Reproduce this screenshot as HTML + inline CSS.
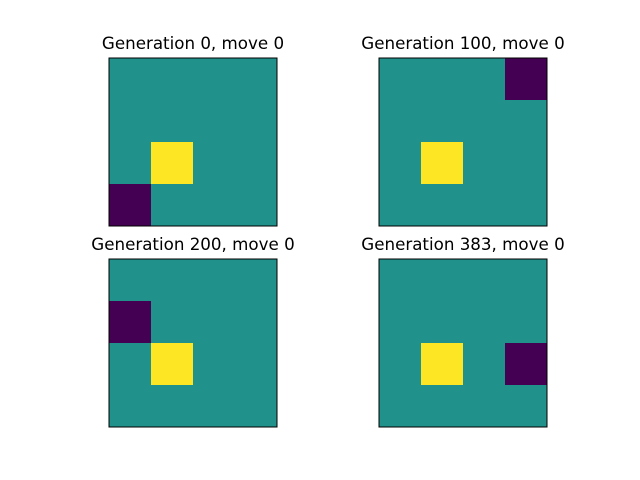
<!DOCTYPE html>
<html><head><meta charset="utf-8"><style>
body{margin:0;background:#fff;width:640px;height:480px;overflow:hidden}
svg{display:block}
text{font-family:"DejaVu Sans","Liberation Sans",sans-serif;font-size:16.7px;fill:#000}
</style></head><body>
<svg id="fig" width="640" height="480"></svg>
<script>
const titles = ["Generation 0, move 0","Generation 100, move 0","Generation 200, move 0","Generation 383, move 0"];
// 0 = purple (agent), 1 = teal (empty), 2 = yellow (goal)
const grid0 = [[1,1,1,1],[1,1,1,1],[1,2,1,1],[0,1,1,1]];
const grid1 = [[1,1,1,0],[1,1,1,1],[1,2,1,1],[1,1,1,1]];
const grid2 = [[1,1,1,1],[0,1,1,1],[1,2,1,1],[1,1,1,1]];
const grid3 = [[1,1,1,1],[1,1,1,1],[1,2,1,0],[1,1,1,1]];
const grids = [grid0,grid1,grid2,grid3];
const palette = ["#440154","#21918c","#fde725"];
const NS="http://www.w3.org/2000/svg";
const svg=document.getElementById('fig');
const origins=[[109,58],[379,58],[109,259],[379,259]];
const size=168;
grids.forEach((g,k)=>{
  const [ox,oy]=origins[k];
  const grp=document.createElementNS(NS,'g');
  
  
  svg.appendChild(grp);
  const n=g.length, cs=size/n;
  const sx=c=>ox+c*cs, sy=r=>oy+r*cs;
  g.forEach((row,r)=>row.forEach((v,c)=>{
    const rc=document.createElementNS(NS,'rect');
    rc.setAttribute('x',sx(c));rc.setAttribute('y',sy(r));
    rc.setAttribute('width',cs+0.5);rc.setAttribute('height',cs+0.5);
    rc.setAttribute('fill',palette[v]);
    
    
    grp.appendChild(rc);
  }));
  const fr=document.createElementNS(NS,'rect');
  fr.setAttribute('x',ox);fr.setAttribute('y',oy);fr.setAttribute('width',size);fr.setAttribute('height',size);
  fr.setAttribute('fill','none');fr.setAttribute('stroke','#000');fr.setAttribute('stroke-width','1');
  
  
  grp.appendChild(fr);
  const t=document.createElementNS(NS,'text');
  t.setAttribute('x',ox+size/2);t.setAttribute('y',oy-9);t.setAttribute('text-anchor','middle');
  t.textContent=titles[k];
  
  
  grp.appendChild(t);
});
</script>
</body></html>
